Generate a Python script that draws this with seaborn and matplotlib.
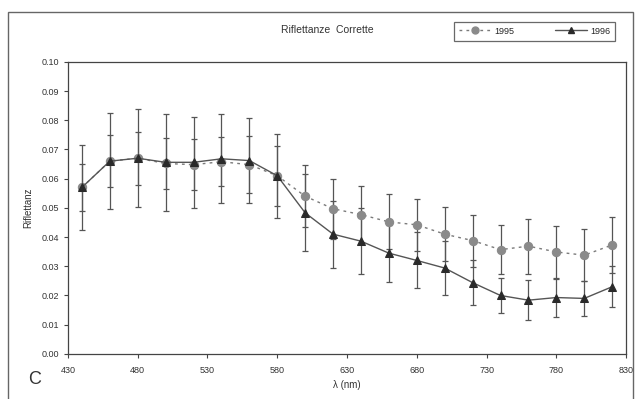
import matplotlib
matplotlib.use("Agg")
import matplotlib.pyplot as plt
import matplotlib.patches as mpatches
import numpy as np
import pandas as pd
import seaborn as sns

# Wavelengths (nm)
wavelength = [440, 460, 480, 500, 520, 540, 560, 580, 600, 620,
              640, 660, 680, 700, 720, 740, 760, 780, 800, 820]

# Corrected reflectance, 1995
refl_1995 = [0.057, 0.066, 0.067, 0.0652, 0.0648, 0.0658, 0.0648, 0.0610, 0.0540, 0.0497,
             0.0477, 0.0452, 0.0442, 0.0410, 0.0388, 0.0357, 0.0369, 0.0349, 0.0338, 0.0373]
err_1995 = [0.0080, 0.0088, 0.0090, 0.0088, 0.0087, 0.0084, 0.0097, 0.0103, 0.0106, 0.0102,
            0.0097, 0.0094, 0.0089, 0.0092, 0.0089, 0.0083, 0.0094, 0.0090, 0.0090, 0.0096]

# Corrected reflectance, 1996
refl_1996 = [0.057, 0.066, 0.067, 0.0656, 0.0656, 0.0668, 0.0662, 0.0610, 0.0483, 0.0410,
             0.0386, 0.0345, 0.0320, 0.0294, 0.0244, 0.0200, 0.0184, 0.0193, 0.0190, 0.0230]
err_1996 = [0.0145, 0.0165, 0.0167, 0.0165, 0.0155, 0.0153, 0.0147, 0.0143, 0.0132, 0.0115,
            0.0114, 0.0098, 0.0096, 0.0091, 0.0076, 0.0060, 0.0068, 0.0065, 0.0061, 0.0070]

x_ticks = [430, 480, 530, 580, 630, 680, 730, 780, 830]
y_ticks = [0.00, 0.01, 0.02, 0.03, 0.04, 0.05, 0.06, 0.07, 0.08, 0.09, 0.10]

df = pd.DataFrame({
    "wavelength": wavelength * 2,
    "refl": refl_1995 + refl_1996,
    "err": err_1995 + err_1996,
    "year": ["1995"] * len(wavelength) + ["1996"] * len(wavelength),
})

sns.set_theme(style="white")
plt.rcParams["font.family"] = ["Liberation Sans", "DejaVu Sans"]

fig = plt.figure(figsize=(6.35, 3.99), dpi=100)
ax = fig.add_axes([0.107, 0.113, 0.879, 0.732])

styles = {
    "1995": dict(color="#8a8a8a", line="#7a7a7a"),
    "1996": dict(color="#2a2a2a", line="#555555"),
}

# error bars for each year
for year, sub in df.groupby("year"):
    ax.errorbar(sub["wavelength"], sub["refl"], yerr=sub["err"], fmt="none",
                ecolor="#555555", elinewidth=0.9, capsize=2, capthick=0.9, zorder=2)

sns.lineplot(data=df, x="wavelength", y="refl", hue="year", style="year",
             palette={"1995": styles["1995"]["line"], "1996": styles["1996"]["line"]},
             dashes={"1995": (2, 3), "1996": ""},
             markers={"1995": "o", "1996": "^"},
             markersize=6, linewidth=1.0, ax=ax, legend=False, zorder=3)

# marker face colours per series
for line, year in zip(ax.get_lines()[-2:], ["1995", "1996"]):
    line.set_markerfacecolor(styles[year]["color"])
    line.set_markeredgecolor(styles[year]["color"])

ax.set_xlim(430, 830)
ax.set_ylim(0, 0.10)
ax.set_xticks(x_ticks)
ax.set_yticks(y_ticks)
ax.set_xticklabels([str(t) for t in x_ticks], fontsize=6.5, color="#333333")
ax.set_yticklabels([f"{t:.2f}" for t in y_ticks], fontsize=6.5, color="#333333")
ax.tick_params(axis="both", direction="out", length=3, width=0.8, color="#444444",
               bottom=True, left=True, pad=3)
ax.tick_params(axis="x", pad=6)
for sp in ax.spines.values():
    sp.set_visible(True)
    sp.set_color("#444444")
    sp.set_linewidth(0.9)

ax.set_xlabel("λ (nm)", fontsize=7, color="#333333", labelpad=3)
ax.set_ylabel("Riflettanz", fontsize=7, color="#333333", labelpad=6)

fig.text(0.515, 0.925, "Riflettanze  Corrette", ha="center", va="center",
         fontsize=7.5, color="#333333")
fig.text(0.055, 0.048, "C", ha="center", va="center", fontsize=13, color="#333333")

handles = [
    plt.Line2D([], [], color=styles["1995"]["line"], ls=(0, (2, 3)), marker="o",
               ms=5, mfc=styles["1995"]["color"], mec=styles["1995"]["color"], lw=1.0),
    plt.Line2D([], [], color=styles["1996"]["line"], ls="-", marker="^",
               ms=5, mfc=styles["1996"]["color"], mec=styles["1996"]["color"], lw=1.0),
]
leg = fig.legend(handles, ["1995", "1996"], loc="center", bbox_to_anchor=(0.842, 0.922),
                 ncol=2, fontsize=6.5, frameon=True, fancybox=False, handlelength=3.5,
                 columnspacing=4.5, borderpad=0.55, handletextpad=0.4)
leg.get_frame().set_edgecolor("#444444")
leg.get_frame().set_linewidth(0.9)

# outer chart border
fig.patches.append(mpatches.Rectangle((8 / 635, -0.05), 625 / 635, 1 - 12 / 399 + 0.05,
                                      transform=fig.transFigure, fill=False,
                                      edgecolor="#666666", linewidth=1.0))

fig.savefig("out.png", dpi=100, facecolor="white")
